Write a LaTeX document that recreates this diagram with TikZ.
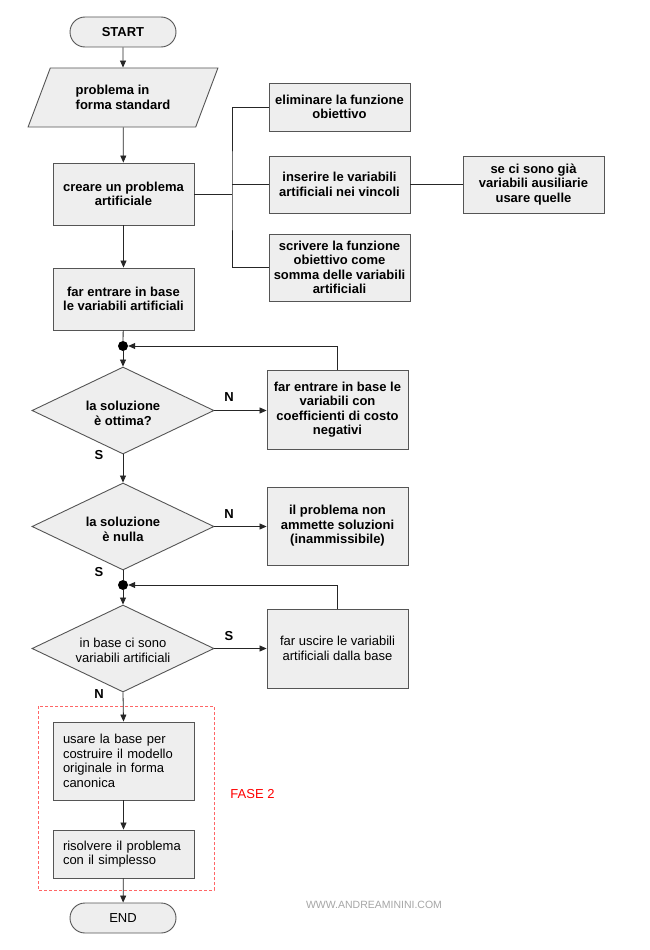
\documentclass[tikz,border=0pt]{standalone}
\usepackage{fontspec}
\setmainfont{Liberation Sans}
\usepackage{tikz}
\usetikzlibrary{arrows.meta, positioning, shapes.geometric}
\definecolor{boxfill}{HTML}{EEEEEE}
\definecolor{boxline}{HTML}{555555}
\definecolor{faseline}{HTML}{FF6666}

\begin{document}
\begin{tikzpicture}[x=1pt, y=-1pt,
    every node/.style={font=\fontsize{13}{14.5}\selectfont\bfseries},
    plain/.style={font=\fontsize{13}{14.5}\selectfont},
    block/.style={rectangle, draw=boxline, fill=boxfill, line width=0.9pt, minimum width=141pt, inner sep=0pt, align=center},
    terminal/.style={rectangle, rounded corners=15pt, draw=boxline, fill=boxfill, line width=0.9pt, minimum width=106pt, minimum height=30pt},
    decision/.style={diamond, draw=boxline, fill=boxfill, line width=0.9pt, minimum width=182pt, minimum height=87pt, inner sep=0pt},
    joint/.style={circle, fill=black, inner sep=0pt, minimum size=10pt},
    flow/.style={-{Triangle[length=7pt, width=6pt]}, color=black!85, line width=0.8pt},
    link/.style={color=black!85, line width=0.8pt}
]
      \useasboundingbox[fill=white] (0,0) rectangle (650,950);

      % main column
      \node[terminal] (start) at (123,32) {START};
      \node[trapezium, trapezium left angle=59, trapezium right angle=121, trapezium stretches=true,
            draw=boxline, fill=boxfill, line width=0.9pt, minimum width=190pt, minimum height=59pt,
            inner sep=0pt, align=left] (input) at (123,97.5) {problema in\\forma standard};
      \node[block, minimum height=62pt] (artif) at (123.5,194) {creare un problema\\artificiale};
      \node[block, minimum height=62pt] (enter) at (123.5,299) {far entrare in base\\le variabili artificiali};

      % side steps
      \node[block, minimum height=48pt] (elim) at (339.5,107) {eliminare la funzione\\obiettivo};
      \node[block, minimum height=57pt] (insert) at (339.5,184.5) {inserire le variabili\\artificiali nei vincoli};
      \node[block, minimum height=67pt] (write) at (339.5,267.5) {scrivere la funzione\\obiettivo come\\somma delle variabili\\artificiali};
      \node[block, minimum height=57pt] (aux) at (533.5,184.5) {se ci sono già\\variabili ausiliarie\\usare quelle};

      % decisions
      \node[joint] (dot1) at (123,346) {};
      \node[decision, label={[align=center, yshift=-3pt]center:la soluzione\\è ottima?}] (optimal) at (123,410.5) {};
      \node[block, minimum height=79pt] (negcost) at (337.5,409.5) {far entrare in base le\\variabili con\\coefficienti di costo\\negativi};
      \node[decision, label={[align=center, yshift=-3pt]center:la soluzione\\è nulla}] (null) at (123,526.5) {};
      \node[block, minimum height=78pt] (infeas) at (337.5,526) {il problema non\\ammette soluzioni\\(inammissibile)};
      \node[joint] (dot2) at (123,585) {};
      \node[decision, label={[align=center, plain, yshift=-2pt]center:in base ci sono\\variabili artificiali}] (inbase) at (123,648.5) {};
      \node[block, plain, minimum height=79pt] (exit) at (337.5,648.5) {far uscire le variabili\\artificiali dalla base};

      % phase 2
      \node[block, plain, minimum height=78pt, text width=121pt, align=left] (canon) at (123.5,761) {usare la base per\\costruire il modello\\originale in forma\\canonica};
      \node[block, plain, minimum height=48pt, text width=121pt, align=left] (simplex) at (123.5,854) {risolvere il problema\\con il simplesso};
      \node[terminal, plain] (end) at (123,918) {END};
      \draw[faseline, dashed, line width=0.8pt, dash pattern=on 3pt off 2pt] (38,706) rectangle (214,890);
      \node[plain, text=red] (fase) at (252.5,794) {FASE 2};

      % branch labels
      \node (n1) at (229,397) {N};
      \node (s1) at (99,455) {S};
      \node (n2) at (229,514) {N};
      \node (s2) at (99,572) {S};
      \node (s3) at (229,636) {S};
      \node (n3) at (99,694) {N};

      \node[font=\fontsize{10.5}{12}\selectfont, text=black!35] (site) at (374,905) {WWW.ANDREAMININI.COM};

      % connectors
      \draw[flow] (start) -- (input);
      \draw[flow] (input) -- (artif);
      \draw[flow] (artif) -- (enter);
      \coordinate (bus) at (232,194);
      \draw[link] (artif.east) -- (bus);
      \draw[link] (elim.west) -| (bus) |- (write.west);
      \draw[link] (insert.west) -- (insert.west -| bus);
      \draw[link] (insert) -- (aux);
      \draw[link] (enter) -- (dot1);
      \draw[flow] (dot1) -- (optimal.north);
      \draw[flow] (optimal.east) -- (negcost.west |- optimal.east);
      \draw[flow] (negcost.north) |- (dot1.east);
      \draw[flow] (optimal.south) -- (null.north);
      \draw[flow] (null.east) -- (infeas.west |- null.east);
      \draw[link] (null.south) -- (dot2);
      \draw[flow] (dot2) -- (inbase.north);
      \draw[flow] (inbase.east) -- (exit.west);
      \draw[flow] (exit.north) |- (dot2.east);
      \draw[flow] (inbase.south) -- (canon.north);
      \draw[flow] (canon) -- (simplex);
      \draw[flow] (simplex) -- (end);
\end{tikzpicture}
\end{document}
